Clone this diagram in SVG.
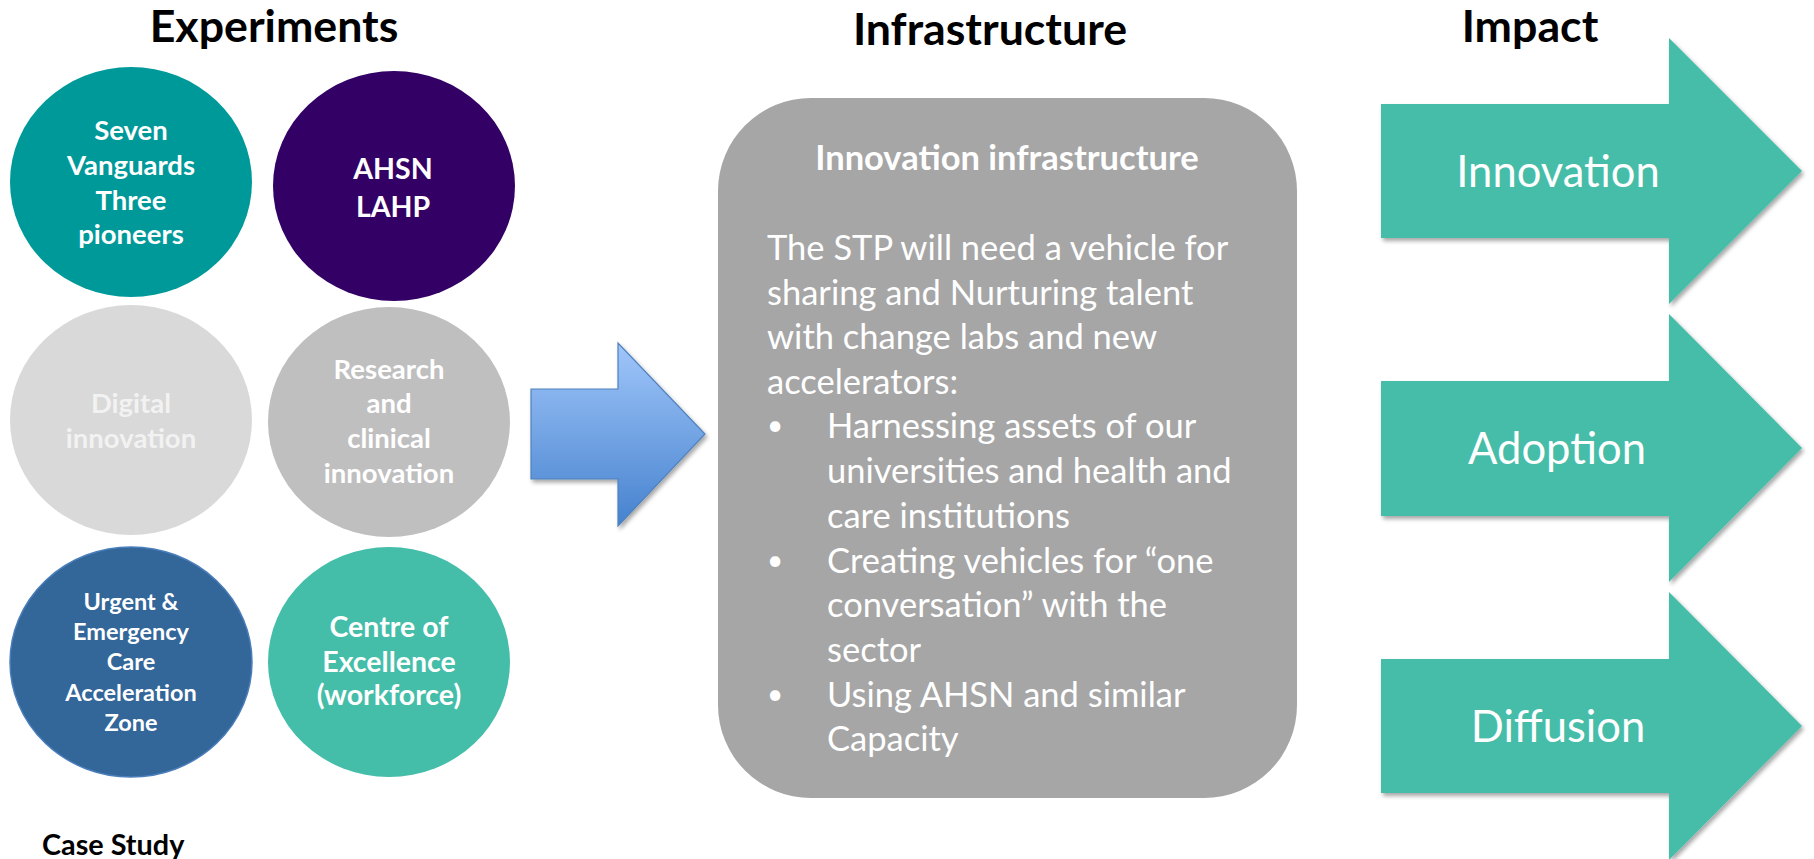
<svg xmlns="http://www.w3.org/2000/svg" width="1814" height="859" viewBox="0 0 1814 859">
<style>
.hdr{font-family:Lato,"Liberation Sans",sans-serif;font-weight:bold;font-size:44.7px;fill:#000;text-anchor:middle}
.ct{font-family:Lato,"Liberation Sans",sans-serif;font-weight:bold;font-size:27.5px;fill:#fff;text-anchor:middle}
.body{font-family:Lato,"Liberation Sans",sans-serif;font-size:34.5px;fill:#fff}
.bul{font-family:Lato,"Liberation Sans",sans-serif;font-size:28px;fill:#fff}
.imp{font-family:Lato,"Liberation Sans",sans-serif;font-size:43.5px;fill:#fff;text-anchor:middle}
.teal{fill:#44BDA9}
</style>
<defs>
<linearGradient id="bg" x1="0" y1="0" x2="0" y2="1">
<stop offset="0" stop-color="#A0C6FA"/>
<stop offset="1" stop-color="#4682CE"/>
</linearGradient>
<filter id="sh" x="-10%" y="-10%" width="125%" height="125%">
<feGaussianBlur in="SourceAlpha" stdDeviation="2"/>
<feOffset dx="2" dy="3" result="o"/>
<feComponentTransfer><feFuncA type="linear" slope="0.35"/></feComponentTransfer>
<feMerge><feMergeNode/><feMergeNode in="SourceGraphic"/></feMerge>
</filter>
</defs>
<rect width="1814" height="859" fill="#fff"/>
<text class="hdr" x="274" y="42">Experiments</text>
<text class="hdr" x="990" y="45">Infrastructure</text>
<text class="hdr" x="1530" y="42">Impact</text>

<g id="n-vanguards">
<ellipse cx="131" cy="182" rx="121" ry="115" fill="#009999"/>
<text class="ct" x="131" y="140">Seven</text>
<text class="ct" x="131" y="175">Vanguards</text>
<text class="ct" x="131" y="210">Three</text>
<text class="ct" x="131" y="244">pioneers</text>
</g>
<g id="n-ahsn">
<ellipse cx="394" cy="186" rx="121" ry="115" fill="#330066"/>
<text class="ct" x="393" y="179" style="font-size:28.5px">AHSN</text>
<text class="ct" x="393" y="217" style="font-size:28.5px">LAHP</text>
</g>
<g id="n-digital">
<ellipse cx="131" cy="420" rx="121" ry="115" fill="#D9D9D9"/>
<text class="ct" x="131" y="413" style="fill:#F2F2F2">Digital</text>
<text class="ct" x="131" y="448" style="fill:#F2F2F2">innovation</text>
</g>
<g id="n-research">
<ellipse cx="389" cy="422" rx="121" ry="115" fill="#BFBFBF"/>
<text class="ct" x="389" y="379">Research</text>
<text class="ct" x="389" y="413">and</text>
<text class="ct" x="389" y="448">clinical</text>
<text class="ct" x="389" y="483">innovation</text>
</g>
<g id="n-urgent">
<ellipse cx="131" cy="662" rx="121" ry="115" fill="#336699" stroke="#4A7EBB" stroke-width="1.5"/>
<text class="ct" x="131" y="610" style="font-size:23.5px">Urgent &amp;</text>
<text class="ct" x="131" y="640" style="font-size:23.5px">Emergency</text>
<text class="ct" x="131" y="670" style="font-size:23.5px">Care</text>
<text class="ct" x="131" y="701" style="font-size:23.5px">Acceleration</text>
<text class="ct" x="131" y="731" style="font-size:23.5px">Zone</text>
</g>
<g id="n-centre">
<ellipse cx="389" cy="662" rx="121" ry="115" fill="#44BDA9"/>
<text class="ct" x="389" y="637" style="font-size:28.5px">Centre of</text>
<text class="ct" x="389" y="672" style="font-size:28.5px">Excellence</text>
<text class="ct" x="389" y="705" style="font-size:28.5px">(workforce)</text>
</g>
<text x="42" y="855" style="font-family:Lato,'Liberation Sans',sans-serif;font-weight:bold;font-size:28.8px;fill:#000">Case Study</text>

<g id="connectors">
<path d="M531 389 H618 V343 L705 434 L618 526 V479 H531 Z" fill="url(#bg)" stroke="#4F81BD" stroke-width="1.2" filter="url(#sh)"/>
</g>

<g id="n-infrastructure">
<rect x="718" y="98" width="579" height="700" rx="93" ry="93" fill="#A6A6A6"/>
<text x="1007" y="170" style="font-family:Lato,'Liberation Sans',sans-serif;font-weight:bold;font-size:34.5px;fill:#fff;text-anchor:middle">Innovation infrastructure</text>
<text class="body" x="767" y="260">The STP will need a vehicle for</text>
<text class="body" x="767" y="304.5">sharing and Nurturing talent</text>
<text class="body" x="767" y="349">with change labs and new</text>
<text class="body" x="767" y="393.5">accelerators:</text>
<text class="bul" x="767" y="435">•</text>
<text class="body" x="827" y="438">Harnessing assets of our</text>
<text class="body" x="827" y="483">universities and health and</text>
<text class="body" x="827" y="528">care institutions</text>
<text class="bul" x="767" y="570">•</text>
<text class="body" x="827" y="573">Creating vehicles for “one</text>
<text class="body" x="827" y="617">conversation” with the</text>
<text class="body" x="827" y="662">sector</text>
<text class="bul" x="767" y="704">•</text>
<text class="body" x="827" y="707">Using AHSN and similar</text>
<text class="body" x="827" y="751">Capacity</text>
</g>

<g id="n-innovation">
<path class="teal" d="M1381 104 H1669 V38 L1802 171 L1669 304 V238 H1381 Z" filter="url(#sh)"/>
<text class="imp" x="1558" y="187">Innovation</text>
</g>
<g id="n-adoption">
<path class="teal" d="M1381 381 H1669 V314 L1802 448 L1669 582 V516 H1381 Z" filter="url(#sh)"/>
<text class="imp" x="1557" y="464">Adoption</text>
</g>
<g id="n-diffusion">
<path class="teal" d="M1381 659 H1669 V592 L1802 726 L1669 860 V793 H1381 Z" filter="url(#sh)"/>
<text class="imp" x="1558" y="742">Diffusion</text>
</g>
</svg>
